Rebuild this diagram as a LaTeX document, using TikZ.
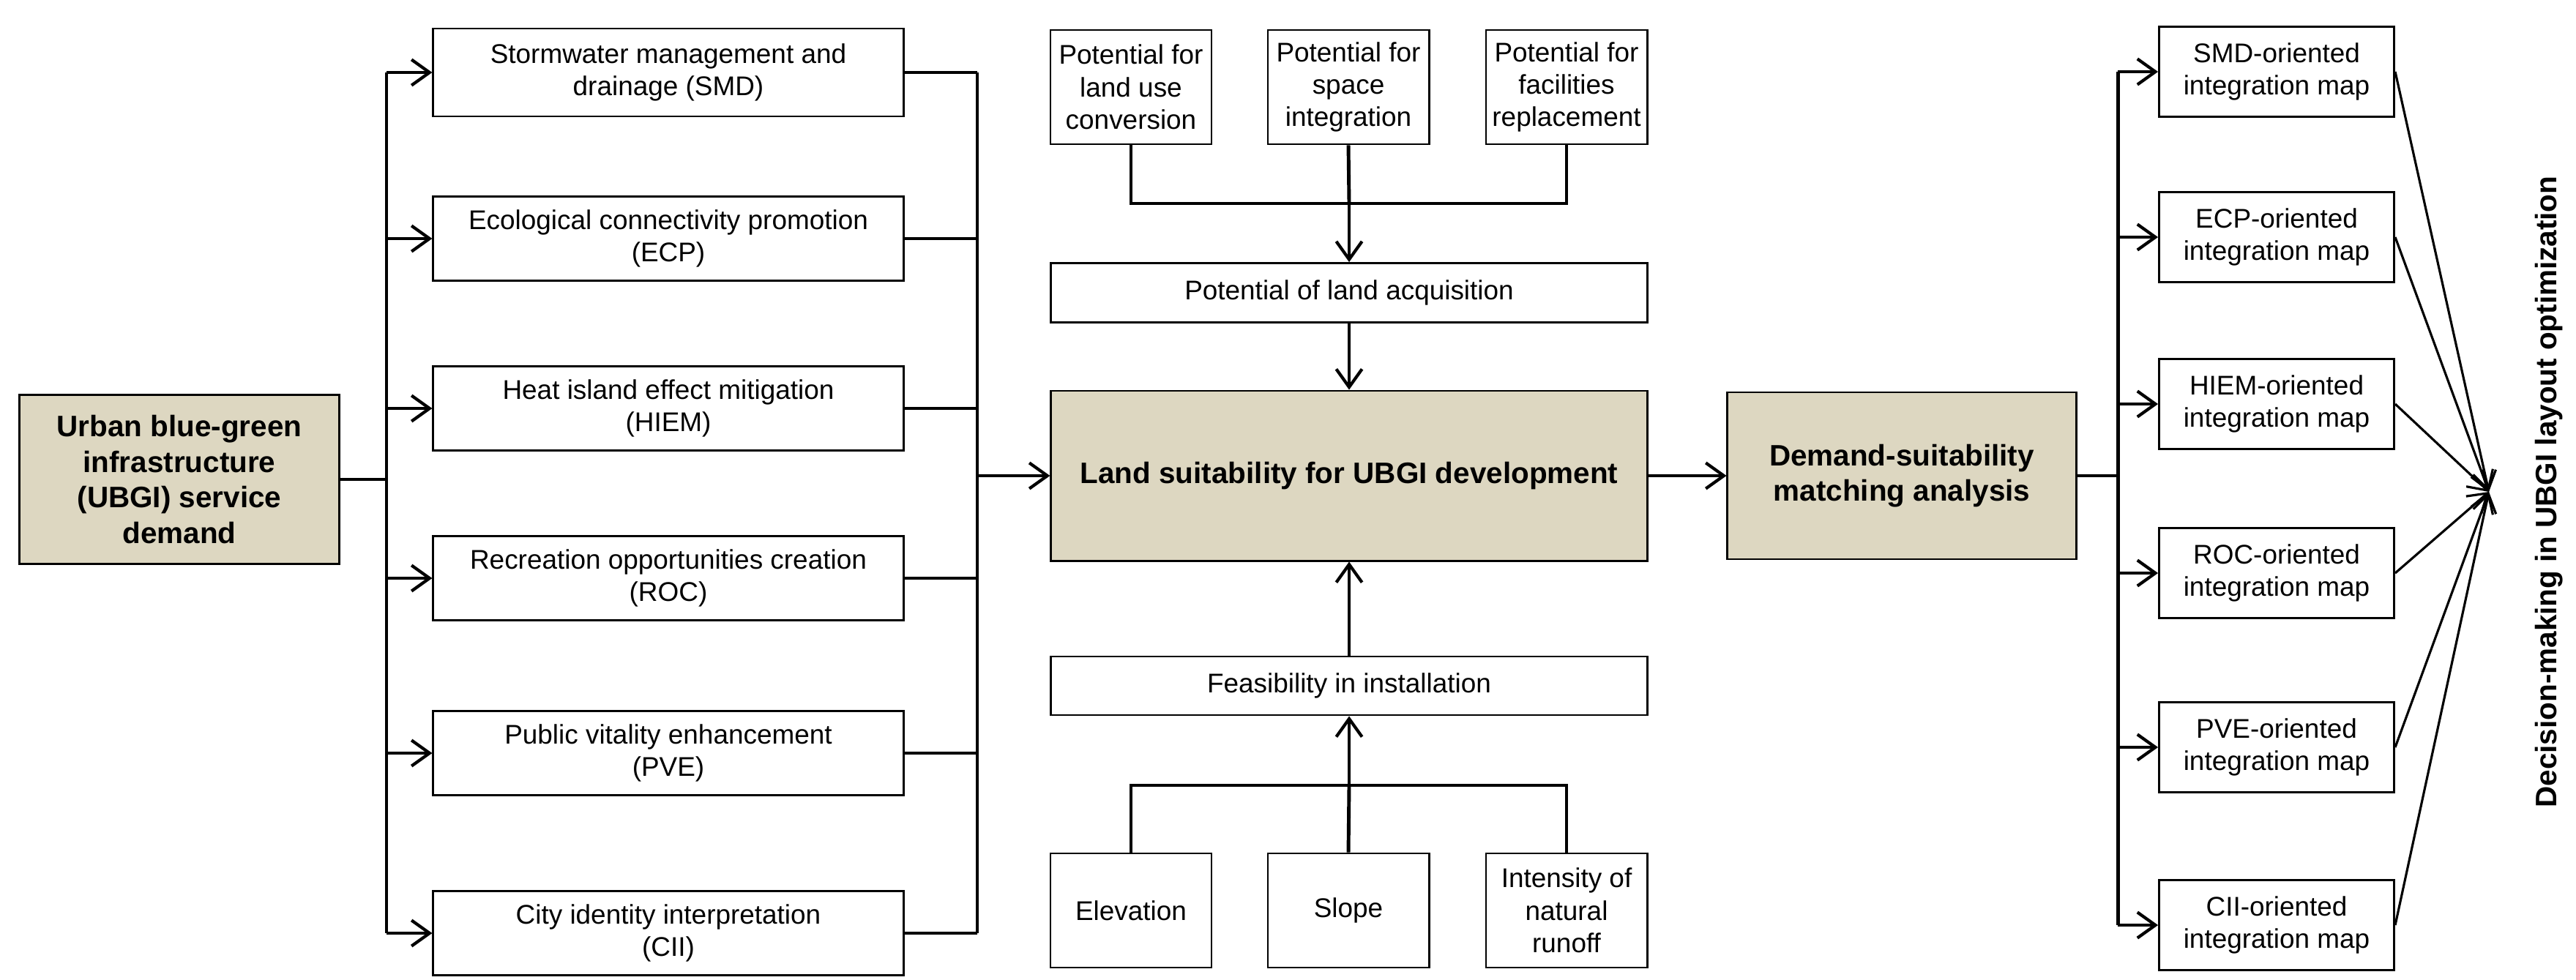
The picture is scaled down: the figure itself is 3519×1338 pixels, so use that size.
\documentclass[tikz,border=0pt]{standalone}
\usepackage{fontspec}
\setmainfont{Liberation Sans}
\usetikzlibrary{calc,arrows.meta}
\definecolor{tan}{RGB}{221,215,193}
\tikzset{
  box/.style={draw,line width=0.8pt,align=center,inner sep=1pt,font=\fontsize{10.5}{12.6}\selectfont},
  hbox/.style={box,fill=tan,font=\fontsize{11.5}{13.8}\selectfont\bfseries},
  side/.style={box,minimum width=6.42cm,minimum height=1.15cm},
  pot/.style={box,minimum width=2.2cm,minimum height=1.56cm},
  wide/.style={box,minimum width=8.14cm,minimum height=0.81cm},
  mapbox/.style={box,minimum width=3.21cm,minimum height=1.23cm},
  link/.style={line width=1.4pt},
  arr/.style={link,-{Straight Barb[length=7pt,width=10pt,line width=1.2pt]}},
  fan/.style={line width=0.9pt,-{Straight Barb[length=7pt,width=9pt,line width=0.9pt]}}
}
\begin{document}
\begin{tikzpicture}[x=0.01cm,y=-0.01cm]
\useasboundingbox (0,0) rectangle (3519,1338);

\node[hbox,minimum width=4.37cm,minimum height=2.31cm] (ubgi) at (245,655) {Urban blue-green\\infrastructure\\(UBGI) service\\demand};

\node[side,minimum height=1.2cm] (smd) at (913,99) {Stormwater management and\\drainage (SMD)};
\node[side] (ecp) at (913,326) {Ecological connectivity promotion\\(ECP)};
\node[side] (hiem) at (913,558) {Heat island effect mitigation\\(HIEM)};
\node[side] (roc) at (913,790) {Recreation opportunities creation\\(ROC)};
\node[side] (pve) at (913,1029) {Public vitality enhancement\\(PVE)};
\node[side] (cii) at (913,1275) {City identity interpretation\\(CII)};

\node[pot] (pconv) at (1545,119) {Potential for\\land use\\conversion};
\node[pot] (pspace) at (1842,119) {Potential for\\space\\integration};
\node[pot] (pfac) at (2140,119) {Potential for\\facilities\\replacement};
\node[wide] (acq) at (1843,400) {Potential of land acquisition};
\node[hbox,minimum width=8.14cm,minimum height=2.32cm] (land) at (1843,650) {Land suitability for UBGI development};
\node[wide,minimum height=0.8cm] (feas) at (1843,937) {Feasibility in installation};
\node[pot] (elev) at (1545,1244) {Elevation};
\node[pot] (slope) at (1842,1244) {Slope};
\node[pot] (runoff) at (2140,1244) {Intensity of\\natural\\runoff};

\node[hbox,minimum width=4.76cm,minimum height=2.28cm] (dsm) at (2598,650) {Demand-suitability\\matching analysis};

\node[mapbox] (msmd) at (3110,98) {SMD-oriented\\integration map};
\node[mapbox] (mecp) at (3110,324) {ECP-oriented\\integration map};
\node[mapbox] (mhiem) at (3110,552) {HIEM-oriented\\integration map};
\node[mapbox] (mroc) at (3110,783) {ROC-oriented\\integration map};
\node[mapbox] (mpve) at (3110,1021) {PVE-oriented\\integration map};
\node[mapbox] (mcii) at (3110,1264) {CII-oriented\\integration map};

\node[rotate=90,font=\fontsize{11.5}{14}\selectfont\bfseries] (decision) at (3482,672) {Decision-making in UBGI layout optimization};

\coordinate (jl) at (528,655);
\coordinate (jr) at (1335,650);
\coordinate (tj) at (1843,278);
\coordinate (bj) at (1843,1073);
\coordinate (jm) at (2893,650);
\coordinate (conv) at (3400,672);

\draw[link] (ubgi.east) -- (jl);
\draw[link] (jl |- smd) -- (jl |- cii);
\draw[link] (jr |- smd) -- (jr |- cii);
\foreach \n in {smd,ecp,hiem,roc,pve,cii}{
  \draw[arr] (jl |- \n) -- (\n.west);
  \draw[link] (\n.east) -- (jr |- \n);
}
\draw[arr] (jr) -- (land.west);

\draw[link] (pconv.south) |- (tj) -| (pfac.south);
\draw[link] (pspace.south) -- (tj);
\draw[arr] (tj) -- (acq.north);
\draw[arr] (acq.south) -- (land.north);

\draw[link] (elev.north) |- (bj) -| (runoff.north);
\draw[link] (slope.north) -- (bj);
\draw[arr] (bj) -- (feas.south);
\draw[arr] (feas.north) -- (land.south);

\draw[arr] (land.east) -- (dsm.west);
\draw[link] (dsm.east) -- (jm);
\draw[link] (jm |- msmd) -- (jm |- mcii);
\foreach \n in {msmd,mecp,mhiem,mroc,mpve,mcii}{
  \draw[arr] (jm |- \n) -- (\n.west);
  \draw[fan] (\n.east) -- (conv);
}
\end{tikzpicture}
\end{document}
